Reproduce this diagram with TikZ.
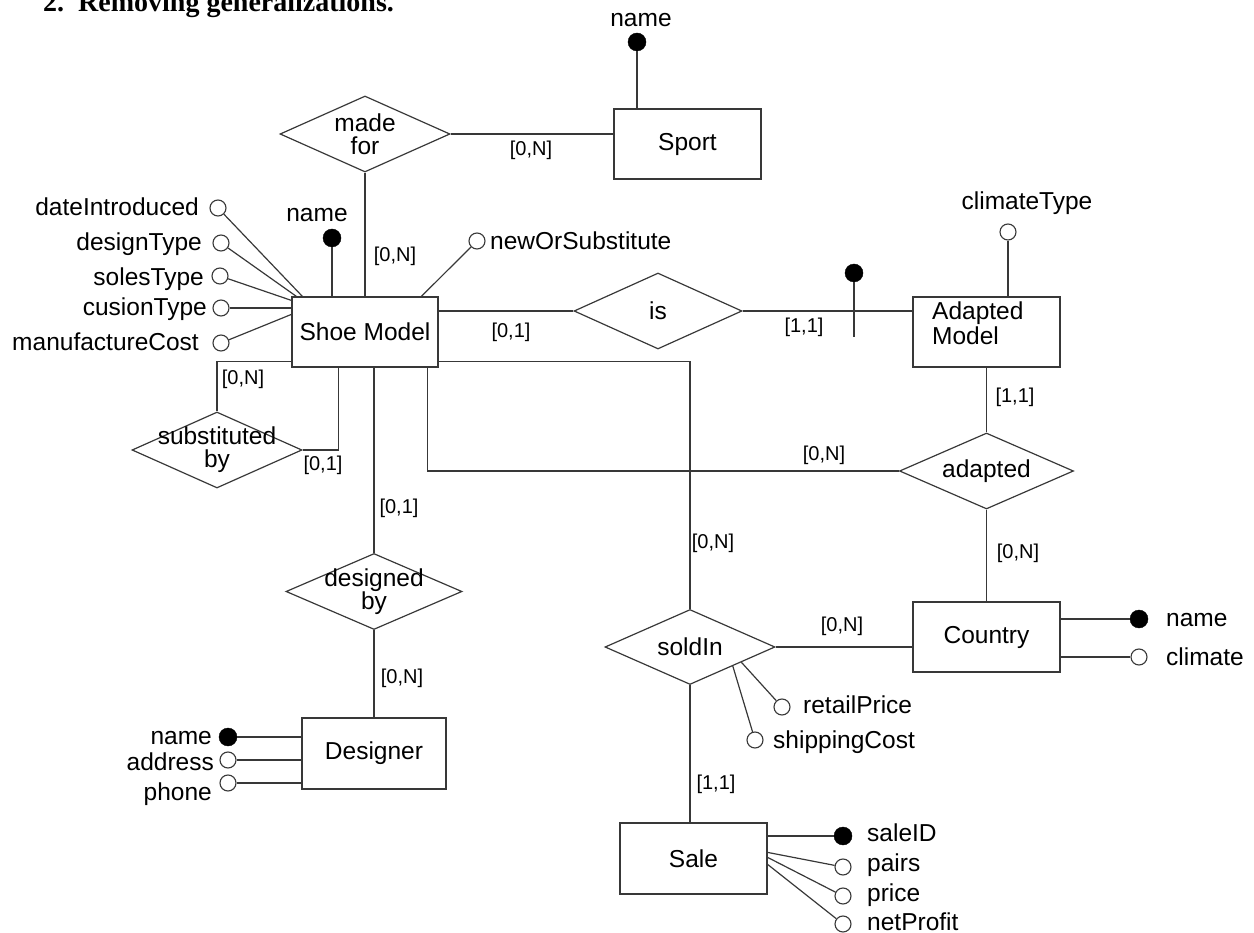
\documentclass[tikz,border=0pt]{standalone}
\usepackage{fontspec}
\setmainfont{Liberation Sans}
\newfontfamily\titlefont{Liberation Serif}
\usetikzlibrary{shapes.geometric,calc}
\definecolor{linec}{gray}{0.22}
\tikzset{
  ent/.style={draw=linec, line width=1.2pt, rectangle, minimum width=147pt, minimum height=70pt, inner sep=0pt, font=\fontsize{24.5}{24}\selectfont},
  rel/.style={draw=linec, line width=1.2pt, diamond, minimum width=170pt, minimum height=76pt, inner sep=0pt},
  reltxt/.style={font=\fontsize{24.5}{23}\selectfont, align=center, inner sep=0pt},
  keyatt/.style={circle, fill=black, draw=black, minimum size=18pt, inner sep=0pt},
  optatt/.style={circle, draw=linec, fill=white, line width=1.1pt, minimum size=16pt, inner sep=0pt},
  lbl/.style={font=\fontsize{24.5}{24}\selectfont, inner sep=0pt, text height=17.5pt, text depth=0pt},
  card/.style={font=\fontsize{20}{20}\selectfont, inner sep=0pt},
  conn/.style={draw=linec, line width=1.2pt},
}
\begin{document}
\begin{tikzpicture}[x=1pt,y=-1pt]
\useasboundingbox (0,0) rectangle (1254,933);
% title
\node[anchor=base west, inner sep=0pt, font=\titlefont\bfseries\fontsize{28}{28}\selectfont] (title) at (43,12) {2.\hspace{14pt}Removing generalizations.};

% entities
\node[ent] (sport) at (687.5,144) {Sport};
\node[ent, minimum width=146pt] (shoe) at (365,332) {Shoe Model};
\node[ent] (am) at (986.5,332) {};
\node[anchor=north west, align=left, inner sep=0pt, font=\fontsize{24.5}{25}\selectfont] (amtxt) at (932,302) {Adapted\\Model};
\node[ent] (country) at (986.5,637) {Country};
\node[ent, minimum width=144pt, minimum height=71pt] (designer) at (374,753.5) {Designer};
\node[ent, minimum height=71pt] (sale) at (693.5,858.5) {Sale};

% relationships
\node[rel, label={[reltxt]center:made\\for}] (madefor) at (365,134) {};
\node[rel, minimum width=168pt, label={[reltxt]center:is}] (is) at (658,311) {};
\node[rel, label={[reltxt]center:substituted\\by}] (subst) at (217,450) {};
\node[rel, minimum width=176pt, label={[reltxt]center:designed\\by}] (desby) at (374,591.5) {};
\node[rel, minimum width=174pt, label={[reltxt]center:adapted}] (adapted) at (986.5,471) {};
\node[rel, minimum height=75pt, label={[reltxt]center:soldIn}] (soldin) at (690,647) {};

% relationship connectors
\draw[conn] (madefor.east) -- (madefor.east -| sport.west);
\draw[conn] (madefor.south) -- (shoe.north);
\draw[conn] (is.west) -- (is.west -| shoe.east);
\draw[conn] (is.east) -- (is.east -| am.west);
\draw[conn] (am.south) -- (adapted.north);
\draw[conn] ([xshift=-11pt]shoe.south east) |- (adapted.west);
\draw[conn] ([yshift=6pt]shoe.south east) -| (soldin.north);
\draw[conn] ([yshift=6pt]shoe.south west) -| (subst.north);
\draw[conn] (subst.east) -| ([xshift=47pt]shoe.south west);
\draw[conn] (desby.north |- shoe.south) -- (desby.north);
\draw[conn] (desby.south) -- (designer.north);
\draw[conn] (soldin.east) -- (soldin.east -| country.west);
\draw[conn] (adapted.south) -- (country.north);
\draw[conn] (soldin.south) -- (soldin.south |- sale.north);

% identifier of Adapted Model
\node[keyatt] (isdot) at (854,273) {};
\coordinate (isend) at (854,337);
\draw[conn] (isdot) -- (isend);

% cardinalities
\node[card] (c1) at (531,150) {[0,N]};
\node[card] (c2) at (395,256) {[0,N]};
\node[card] (c3) at (511,332) {[0,1]};
\node[card] (c4) at (804,327) {[1,1]};
\node[card] (c5) at (1015,397) {[1,1]};
\node[card] (c6) at (824,455) {[0,N]};
\node[card] (c7) at (713,543) {[0,N]};
\node[card] (c8) at (1018,553) {[0,N]};
\node[card] (c9) at (842,626) {[0,N]};
\node[card] (c10) at (716,784) {[1,1]};
\node[card] (c11) at (243,379) {[0,N]};
\node[card] (c12) at (323,465) {[0,1]};
\node[card] (c13) at (399,508) {[0,1]};
\node[card] (c14) at (402,678) {[0,N]};

% Sport attribute
\node[keyatt] (spname) at (637,42) {};
\node[lbl] (spnamet) at (641,18) {name};
\draw[conn] (spname) -- (spname |- sport.north);

% Shoe Model attributes
\node[keyatt] (shname) at (332,238) {};
\node[lbl] (shnamet) at (317,213) {name};
\draw[conn] (shname) -- (shname |- shoe.north);
\node[optatt] (nos) at (477,241) {};
\node[lbl, anchor=west] (nost) at (490,241) {newOrSubstitute};
\draw[conn] (nos) -- ([xshift=130pt]shoe.north west);
\node[optatt] (di) at (218,208) {};
\node[lbl, anchor=east] (dit) at (199,207) {dateIntroduced};
\draw[conn] (di) -- ([xshift=11pt]shoe.north west);
\node[optatt] (dt) at (221,243) {};
\node[lbl, anchor=east] (dtt) at (202,242) {designType};
\draw[conn] (dt) -- ([xshift=5pt]shoe.north west);
\node[optatt] (st) at (220,276) {};
\node[lbl, anchor=east] (stt) at (204,277) {solesType};
\draw[conn] (st) -- ([yshift=-4pt]shoe.north west);
\node[optatt] (ct) at (221,308) {};
\node[lbl, anchor=east] (ctt) at (207,307) {cusionType};
\draw[conn] (ct) -- (ct -| shoe.west);
\node[optatt] (mc) at (221,343) {};
\node[lbl, anchor=east] (mct) at (199,342) {manufactureCost};
\draw[conn] (mc) -- ([yshift=-18pt]shoe.north west);

% Adapted Model attribute
\node[optatt] (ct2) at (1008,232) {};
\node[lbl] (ct2t) at (1027,201) {climateType};
\draw[conn] (ct2) -- (ct2 |- am.north);

% Designer attributes
\node[keyatt] (dname) at (228,737) {};
\node[lbl, anchor=east] (dnamet) at (212,736) {name};
\draw[conn] (dname) -- (dname -| designer.west);
\node[optatt] (daddr) at (228,760) {};
\node[lbl, anchor=east] (daddrt) at (214,762) {address};
\draw[conn] (daddr) -- (daddr -| designer.west);
\node[optatt] (dphone) at (228,783) {};
\node[lbl, anchor=east] (dphonet) at (212,792) {phone};
\draw[conn] (dphone) -- (dphone -| designer.west);

% Country attributes
\node[keyatt] (cname) at (1139,619) {};
\node[lbl, anchor=west] (cnamet) at (1166,618) {name};
\draw[conn] (cname) -- (cname -| country.east);
\node[optatt] (cclim) at (1139,657) {};
\node[lbl, anchor=west] (cclimt) at (1166,657) {climate};
\draw[conn] (cclim) -- (cclim -| country.east);

% soldIn attributes
\node[optatt] (rp) at (782,707) {};
\node[lbl, anchor=west] (rpt) at (803,705) {retailPrice};
\draw[conn] (rp) -- ($(soldin.south)!0.6!(soldin.east)$);
\node[optatt] (sc) at (755,740) {};
\node[lbl, anchor=west] (sct) at (773,740) {shippingCost};
\draw[conn] (sc) -- ($(soldin.south)!0.5!(soldin.east)$);

% Sale attributes
\node[keyatt] (sid) at (843,836) {};
\node[lbl, anchor=west] (sidt) at (867,833) {saleID};
\draw[conn] (sid) -- (sid -| sale.east);
\node[optatt] (pairs) at (843,867) {};
\node[lbl, anchor=west] (pairst) at (867,863) {pairs};
\draw[conn] (pairs) -- ([yshift=-30pt]sale.north east);
\node[optatt] (price) at (843,896) {};
\node[lbl, anchor=west] (pricet) at (867,893) {price};
\draw[conn] (price) -- ([yshift=-35pt]sale.north east);
\node[optatt] (np) at (843,924) {};
\node[lbl, anchor=west] (npt) at (867,922) {netProfit};
\draw[conn] (np) -- ([yshift=-42pt]sale.north east);
\end{tikzpicture}
\end{document}
